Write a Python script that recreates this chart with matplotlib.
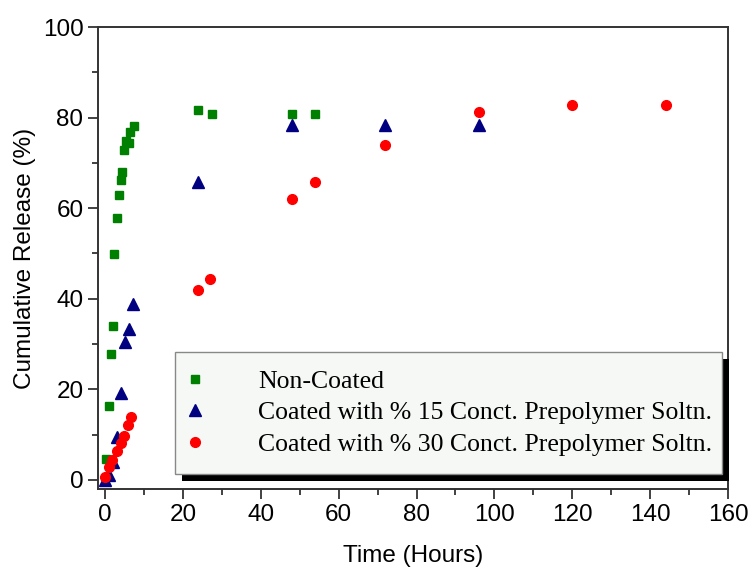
import matplotlib
matplotlib.use('Agg')
from matplotlib import pyplot as plt
from matplotlib import patheffects as pe
from matplotlib.ticker import MultipleLocator

# Non-Coated
t_nc = [0.25, 1, 1.5, 2, 2.4, 3, 3.5, 4, 4.4, 4.9, 5.5, 6.1, 6.5, 7.4, 24, 27.5, 48, 54]
r_nc = [4.6, 16.3, 27.7, 34.0, 49.8, 57.9, 62.9, 66.2, 67.9, 72.8, 74.8, 74.4, 76.9, 78.1,
        81.6, 80.8, 80.8, 80.8]

# Coated 15 %
t_15 = [0, 1.1, 2, 3.2, 4.1, 5.1, 6.2, 7.1, 24, 48, 72, 96]
r_15 = [0, 1.1, 4.0, 9.4, 19.1, 30.4, 33.4, 38.9, 65.8, 78.3, 78.3, 78.3]

# Coated 30 %
t_30 = [0, 0.9, 1.7, 3, 4, 5, 6, 6.8, 24, 27, 48, 54, 72, 96, 120, 144]
r_30 = [0.7, 2.9, 4.4, 6.3, 8.1, 9.7, 12.1, 14.0, 42.0, 44.3, 62.0, 65.8, 73.9, 81.3, 82.8, 82.8]

plt.rcParams['font.family'] = ['Liberation Sans', 'DejaVu Sans']

fig = plt.figure(figsize=(7.51, 5.69), dpi=100)
ax = fig.add_axes([0.1305, 0.1406, 0.8389, 0.8119])

ax.plot(t_nc, r_nc, 's', color='#008000', ms=6, mec='#008000', label='Non-Coated', zorder=3)
ax.plot(t_15, r_15, '^', color='#000080', ms=9, mec='#000080',
        label='Coated with % 15 Conct. Prepolymer Soltn.', zorder=3)
ax.plot(t_30, r_30, 'o', color='#ff0000', ms=7, mec='#ff0000',
        label='Coated with % 30 Conct. Prepolymer Soltn.', zorder=3)

ax.set_xlim(-1.8, 160)
ax.set_ylim(-2, 100)
ax.xaxis.set_major_locator(MultipleLocator(20))
ax.xaxis.set_minor_locator(MultipleLocator(10))
ax.yaxis.set_major_locator(MultipleLocator(20))
ax.yaxis.set_minor_locator(MultipleLocator(10))
ax.tick_params(which='both', direction='out', width=1.3, colors='#333333',
               labelcolor='black', labelsize=17.5)
ax.tick_params(which='major', length=7)
ax.tick_params(which='minor', length=4)

for s in ax.spines.values():
    s.set_color('#333333')
    s.set_linewidth(1.4)

ax.set_xlabel('Time (Hours)', fontsize=17.5, labelpad=14)
ax.set_ylabel('Cumulative Release (%)', fontsize=17.5, labelpad=5)

leg = ax.legend(loc='upper left', bbox_to_anchor=(0.122, 0.297, 0.868, 0.0), mode='expand',
                borderaxespad=0, fancybox=False, framealpha=1, handletextpad=2.35,
                handlelength=0.2, borderpad=0.7, labelspacing=0.34,
                prop={'family': 'Liberation Serif', 'size': 18.5})
frame = leg.get_frame()
frame.set_facecolor('#f5f8f5')
frame.set_edgecolor('#888888')
frame.set_linewidth(1.0)
frame.set_path_effects([pe.SimplePatchShadow(offset=(5, -5), shadow_rgbFace='black', alpha=1),
                        pe.Normal()])

fig.savefig('out.png', dpi=100)
